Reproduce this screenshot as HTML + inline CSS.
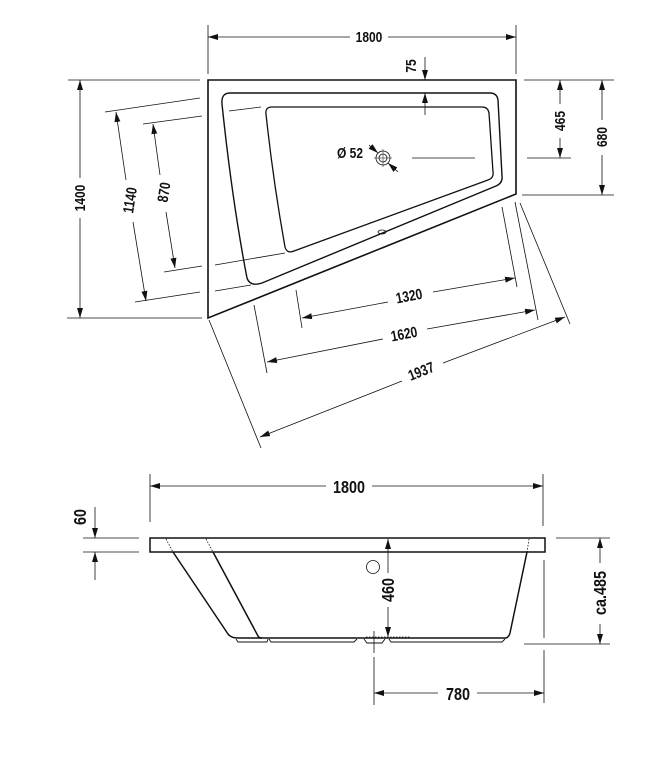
<!DOCTYPE html>
<html><head><meta charset="utf-8"><style>
html,body{margin:0;padding:0;background:#fff;}
svg{display:block;}
text{font-family:"Liberation Sans",sans-serif;font-weight:bold;font-size:15px;fill:#111;}
text.b{font-size:18px;}
</style></head><body>
<svg width="654" height="760" viewBox="0 0 654 760" xmlns="http://www.w3.org/2000/svg">
<defs>
<marker id="a" viewBox="0 0 10 6" refX="10" refY="3" markerWidth="10" markerHeight="6" markerUnits="userSpaceOnUse" orient="auto-start-reverse"><path d="M0,0 L10,3 L0,6 Z" fill="#111"/></marker>
</defs>
<g stroke="#111" fill="none" stroke-width="0.8">
<polygon points="208,80 516,80 516,194 208,318" stroke-width="1.6"/>
<path d="M230,93 L490,93 Q497,93 498,100 L502,176 Q503,183 496,186 L262,283 Q250,287 247,278 Q232,200 222,104 Q221,93 230,93 Z" stroke-width="1.4"/>
<path d="M272,107 L482,107 Q488,107 489,113 L493,172 Q494,178 488,180 L294,251 Q287,254 285,247 Q273,180 266,114 Q265,107 272,107 Z" stroke-width="1.3"/>
<circle cx="383" cy="158" r="7"/><circle cx="383" cy="158" r="4"/>
<line x1="374" y1="158" x2="392" y2="158" stroke-width="0.5"/><line x1="383" y1="149" x2="383" y2="167" stroke-width="0.5"/>
<line x1="369" y1="145" x2="378" y2="153" marker-end="url(#a)"/>
<line x1="398" y1="172" x2="388" y2="163" marker-end="url(#a)"/>
<line x1="412" y1="158" x2="475" y2="158"/>
<ellipse cx="382" cy="232" rx="4" ry="2"/>
<line x1="208" y1="25" x2="208" y2="74"/><line x1="516" y1="25" x2="516" y2="74"/>
<line x1="208" y1="37" x2="350" y2="37" marker-start="url(#a)"/><line x1="388" y1="37" x2="516" y2="37" marker-end="url(#a)"/>
<line x1="425" y1="57" x2="425" y2="80" marker-end="url(#a)"/>
<line x1="425" y1="115" x2="425" y2="93" marker-end="url(#a)"/>
<line x1="524" y1="80" x2="614" y2="80"/><line x1="522" y1="195" x2="614" y2="195"/><line x1="527" y1="158" x2="571" y2="158"/>
<line x1="560" y1="80" x2="560" y2="104" marker-start="url(#a)"/><line x1="560" y1="138" x2="560" y2="158" marker-end="url(#a)"/>
<line x1="602" y1="80" x2="602" y2="120" marker-start="url(#a)"/><line x1="602" y1="155" x2="602" y2="195" marker-end="url(#a)"/>
<line x1="68" y1="80" x2="200" y2="80"/><line x1="67" y1="318" x2="202" y2="318"/>
<line x1="80" y1="80" x2="80" y2="178" marker-start="url(#a)"/><line x1="80" y1="218" x2="80" y2="318" marker-end="url(#a)"/>
<line x1="105" y1="112" x2="200" y2="98"/><line x1="135" y1="302" x2="200" y2="292"/><line x1="215" y1="291" x2="251" y2="285"/>
<line x1="116" y1="112" x2="126" y2="180" marker-start="url(#a)"/><line x1="133" y1="222" x2="146" y2="301" marker-end="url(#a)"/>
<line x1="143" y1="124" x2="202" y2="116"/><line x1="229" y1="111" x2="261" y2="107"/>
<line x1="164" y1="272" x2="202" y2="266"/><line x1="215" y1="265" x2="285" y2="253"/>
<line x1="153" y1="124" x2="160" y2="175" marker-start="url(#a)"/><line x1="166" y1="212" x2="175" y2="268" marker-end="url(#a)"/>
<line x1="296" y1="290" x2="302" y2="328"/><line x1="502" y1="207" x2="517" y2="287"/>
<line x1="302" y1="318" x2="388" y2="302" marker-start="url(#a)"/><line x1="433" y1="292" x2="515" y2="278" marker-end="url(#a)"/>
<line x1="254" y1="305" x2="267" y2="373"/><line x1="515" y1="202" x2="538" y2="320"/>
<line x1="267" y1="362" x2="383" y2="339" marker-start="url(#a)"/><line x1="427" y1="329" x2="535" y2="310" marker-end="url(#a)"/>
<line x1="209" y1="320" x2="261" y2="448"/><line x1="520" y1="203" x2="570" y2="324"/>
<line x1="260" y1="437" x2="402" y2="381" marker-start="url(#a)"/><line x1="443" y1="363" x2="565" y2="317" marker-end="url(#a)"/>
<line x1="150" y1="474" x2="150" y2="522"/><line x1="543" y1="474" x2="543" y2="526"/>
<line x1="150" y1="486" x2="326" y2="486" marker-start="url(#a)"/><line x1="372" y1="486" x2="543" y2="486" marker-end="url(#a)"/>
<rect x="150" y="538" width="395" height="14" stroke-width="1.5"/>
<line x1="166" y1="539" x2="173" y2="552" stroke-dasharray="1.5,1.5"/>
<line x1="206" y1="539" x2="213" y2="552" stroke-dasharray="1.5,1.5"/>
<line x1="529" y1="539" x2="527" y2="552" stroke-dasharray="1.5,1.5"/>
<path d="M173,552 L228,634 Q231,638 238,638 L506,638 Q509,637 510,633 L527,552" stroke-width="1.5"/>
<path d="M213,552 L258,636 Q259,638 262,638" stroke-width="1.5"/>
<path d="M236,639 L238,642 L267,642 L268,639 M269,639 L271,642 L354,642 L357,639 M364,639 L367,643 L382,643 L385,639 M389,639 L391,642 L502,642 L505,639" stroke-width="0.9"/>
<line x1="366" y1="637" x2="410" y2="637" stroke-dasharray="1.5,1.5"/>
<circle cx="373" cy="567" r="6.5"/>
<line x1="388" y1="539" x2="388" y2="573" marker-start="url(#a)"/><line x1="388" y1="607" x2="388" y2="637" marker-end="url(#a)"/>
<line x1="374" y1="631" x2="374" y2="653"/><line x1="374" y1="657" x2="374" y2="705"/>
<line x1="544" y1="560" x2="544" y2="638"/><line x1="544" y1="650" x2="544" y2="703"/>
<line x1="374" y1="693" x2="438" y2="693" marker-start="url(#a)"/><line x1="477" y1="693" x2="544" y2="693" marker-end="url(#a)"/>
<line x1="556" y1="538" x2="610" y2="538"/><line x1="524" y1="644" x2="610" y2="644"/>
<line x1="600" y1="538" x2="600" y2="563" marker-start="url(#a)"/><line x1="600" y1="624" x2="600" y2="644" marker-end="url(#a)"/>
<line x1="83" y1="538" x2="139" y2="538"/><line x1="83" y1="552" x2="139" y2="552"/>
<line x1="95" y1="507" x2="95" y2="538" marker-end="url(#a)"/><line x1="95" y1="580" x2="95" y2="552" marker-end="url(#a)"/>
</g>
<g text-anchor="middle">
<text transform="translate(369,42) scale(0.8,1)">1800</text>
<text transform="translate(416,66) rotate(-90) scale(0.8,1)">75</text>
<text transform="translate(565,121) rotate(-90) scale(0.8,1)">465</text>
<text transform="translate(607,137) rotate(-90) scale(0.8,1)">680</text>
<text transform="translate(85,198) rotate(-90) scale(0.8,1)">1400</text>
<text transform="translate(135,201) rotate(-81) scale(0.8,1)">1140</text>
<text transform="translate(169,193) rotate(-81) scale(0.8,1)">870</text>
<text transform="translate(410,301) rotate(-10.6) scale(0.8,1)">1320</text>
<text transform="translate(405,339) rotate(-10.6) scale(0.8,1)">1620</text>
<text transform="translate(423,376) rotate(-21.5) scale(0.8,1)">1937</text>
<text transform="translate(350,158) scale(0.8,1)">Ø 52</text>
<text class="b" transform="translate(349,493) scale(0.8,1)">1800</text>
<text class="b" transform="translate(394,590) rotate(-90) scale(0.8,1)">460</text>
<text class="b" transform="translate(458,700) scale(0.8,1)">780</text>
<text class="b" transform="translate(606,593) rotate(-90) scale(0.8,1)">ca.485</text>
<text class="b" transform="translate(86,517) rotate(-90) scale(0.8,1)">60</text>
</g>
</svg>
</body></html>
